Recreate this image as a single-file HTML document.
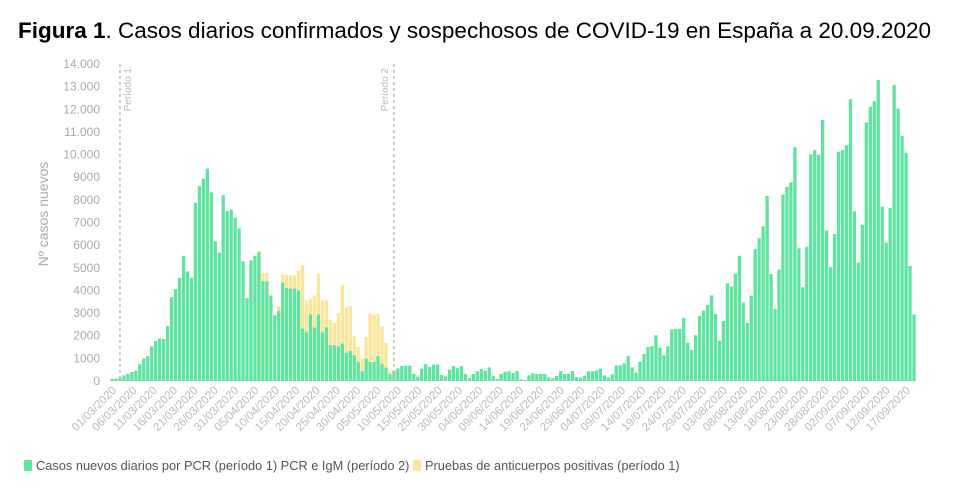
<!DOCTYPE html>
<html><head><meta charset="utf-8"><style>
body{margin:0;background:#fff;width:969px;height:489px;overflow:hidden;font-family:"Liberation Sans",sans-serif}
#title{position:absolute;left:18px;top:18px;font-size:22.5px;color:#000;white-space:nowrap}
svg{position:absolute;left:0;top:0}
</style></head><body>
<div id="title"><b>Figura 1</b>. Casos diarios confirmados y sospechosos de COVID-19 en España a 20.09.2020</div>
<svg id="chart" width="969" height="489"></svg>
<script>
const pcr=[100,100,150,250,320,400,450,740,1000,1100,1530,1770,1880,1850,2430,3700,4060,4550,5530,4840,4560,7870,8600,8930,9380,8330,6170,5670,8200,7500,7570,7210,6740,5280,3660,5330,5530,5700,4400,4400,3750,2900,3090,4340,4100,4080,4080,4000,2310,2150,2940,2360,2940,2150,2370,1580,1580,1530,1650,1240,1330,1140,840,420,990,840,840,1100,740,590,300,440,560,660,680,680,310,190,545,740,620,720,720,265,205,500,660,570,660,310,120,310,430,530,455,600,220,100,320,410,430,350,440,75,45,250,340,310,320,310,160,120,220,430,310,310,440,175,150,235,430,430,460,545,250,160,295,690,690,780,1100,600,370,840,1190,1500,1550,2020,1470,1130,1530,2280,2300,2300,2780,1680,1370,2020,2870,3110,3360,3780,2960,1780,2650,4310,4170,4740,5530,3470,2560,3770,5840,6300,6830,8170,4720,3180,4930,8230,8570,8770,10320,5860,4140,5930,10010,10200,9990,11530,6650,5020,6490,10130,10190,10410,12440,7490,5230,6900,11420,12110,12350,13290,7700,6110,7640,13070,12030,10820,10080,5080,2940];
const totals=[[37,5750],[38,4770],[39,4770],[40,3830],[42,3300],[43,4710],[44,4700],[45,4670],[46,4670],[47,4860],[48,5110],[49,3560],[50,3640],[51,3780],[52,4740],[53,3560],[54,3560],[55,2710],[56,2560],[57,3000],[58,4250],[59,3240],[60,3300],[61,1970],[62,1500],[63,1000],[64,1940],[65,2970],[66,2910],[67,2970],[68,2410],[69,1680],[70,470]];
const yTicks=[0,1000,2000,3000,4000,5000,6000,7000,8000,9000,10000,11000,12000,13000,14000];
const yTickLabels=["0","1000","2000","3000","4000","5000","6000","7000","8000","9000","10.000","11.000","12.000","13.000","14.000"];
const xLabels=["01/03/2020","06/03/2020","11/03/2020","16/03/2020","21/03/2020","26/03/2020","31/03/2020","05/04/2020","10/04/2020","15/04/2020","20/04/2020","25/04/2020","30/04/2020","05/05/2020","10/05/2020","15/05/2020","25/05/2020","30/05/2020","04/06/2020","09/06/2020","14/06/2020","19/06/2020","24/06/2020","29/06/2020","04/07/2020","09/07/2020","14/07/2020","19/07/2020","24/07/2020","29/07/2020","03/08/2020","08/08/2020","13/08/2020","18/08/2020","23/08/2020","28/08/2020","02/09/2020","07/09/2020","12/09/2020","17/09/2020"];
const periodDays=[2,71];
const periodLabels=["Período 1","Período 2"];
const ns="http://www.w3.org/2000/svg";
const svg=document.getElementById('chart');
const x=i=>112+i*3.97;
const y=v=>381-v*317/14000;
const xl=k=>112+k*(906-112)/(xLabels.length-1);
function mk(t,a,p){const e=document.createElementNS(ns,t);for(const k in a)e.setAttribute(k,a[k]);(p||svg).appendChild(e);return e;}
totals.forEach(([i,t])=>{const r=mk('rect',{x:x(i)-1.6,y:y(t),width:3.3,height:y(0)-y(t),fill:'#f9e69a'});

});
pcr.forEach((v,i)=>{const r=mk('rect',{x:x(i)-1.6,y:y(v),width:3.3,height:y(0)-y(v),fill:'#5fe3a1'});

});
yTicks.forEach((v,k)=>{const t=mk('text',{x:100,y:y(v)+4,'text-anchor':'end','font-size':12,fill:'#aaa'});t.textContent=yTickLabels[k];

});
xLabels.forEach((s,k)=>{const t=mk('text',{x:0,y:0,'text-anchor':'end','font-size':11.5,fill:'#bbb',transform:`translate(${xl(k)+5},391) rotate(-45)`});t.textContent=s;

});
periodDays.forEach((d,k)=>{const l=mk('line',{x1:x(d),x2:x(d),y1:64,y2:381,stroke:'#bbb','stroke-width':1.5,'stroke-dasharray':'3,3'});


const tx=k==0?x(d)+11:x(d)-6;
const t=mk('text',{x:0,y:0,'text-anchor':'end','font-size':10,fill:'#bbb',transform:`translate(${tx},68) rotate(-90)`});t.textContent=periodLabels[k];

});
const yt=mk('text',{x:0,y:0,'text-anchor':'middle','font-size':14,fill:'#aaa',transform:'translate(48,214) rotate(-90)'});yt.textContent='Nº casos nuevos';


const lg=[[24,'#5fe3a1','Casos nuevos diarios por PCR (período 1) PCR e IgM (período 2)'],[413,'#f9e69a','Pruebas de anticuerpos positivas (período 1)']];
lg.forEach(([lx,c,s])=>{const g=mk('g',{});


mk('rect',{x:lx,y:460,width:8,height:11,rx:1.5,fill:c},g);const t=mk('text',{x:lx+12,y:470,'font-size':12.8,fill:'#555'},g);t.textContent=s;});
</script>
</body></html>
